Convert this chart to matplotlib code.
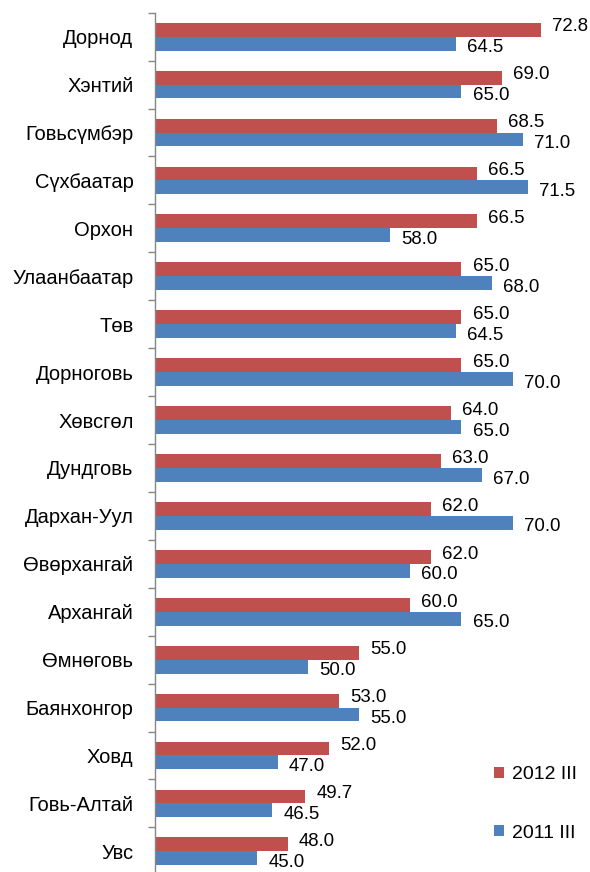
import matplotlib
matplotlib.use("Agg")
import matplotlib.pyplot as plt
import numpy as np

plt.rcParams['font.family'] = ['Liberation Sans', 'DejaVu Sans']

aimags = ["Дорнод", "Хэнтий", "Говьсүмбэр", "Сүхбаатар", "Орхон", "Улаанбаатар",
          "Төв", "Дорноговь", "Хөвсгөл", "Дундговь", "Дархан-Уул", "Өвөрхангай",
          "Архангай", "Өмнөговь", "Баянхонгор", "Ховд", "Говь-Алтай", "Увс"]
vals_2012 = [72.8, 69.0, 68.5, 66.5, 66.5, 65.0, 65.0, 65.0, 64.0, 63.0,
             62.0, 62.0, 60.0, 55.0, 53.0, 52.0, 49.7, 48.0]
vals_2011 = [64.5, 65.0, 71.0, 71.5, 58.0, 68.0, 64.5, 70.0, 65.0, 67.0,
             70.0, 60.0, 65.0, 50.0, 55.0, 47.0, 46.5, 45.0]
series_labels = ["2012 III", "2011 III"]

RED = "#C0504D"
BLUE = "#4F81BD"

fig = plt.figure(figsize=(5.9, 8.72), dpi=100)
W, H = 590, 872
ax = fig.add_axes([155 / W, (H - 875.3) / H, (563.6 - 155) / W, (875.3 - 12.7) / H])

y = np.arange(len(aimags))
h = 0.29
xmin = 35
b1 = ax.barh(y - h / 2, np.array(vals_2012) - xmin, height=h, left=xmin,
             color=RED, label=series_labels[0])
b2 = ax.barh(y + h / 2, np.array(vals_2011) - xmin, height=h, left=xmin,
             color=BLUE, label=series_labels[1])

# data labels: red slightly above, blue slightly below
for i in range(len(aimags)):
    ax.annotate(f"{vals_2012[i]:.1f}", (vals_2012[i], y[i] - h / 2),
                xytext=(8, 2), textcoords="offset points",
                ha="left", va="center", fontsize=13.4, color="black")
    ax.annotate(f"{vals_2011[i]:.1f}", (vals_2011[i], y[i] + h / 2),
                xytext=(8, -3), textcoords="offset points",
                ha="left", va="center", fontsize=13.4, color="black")

ax.set_xlim(xmin, 75)
ax.set_ylim(len(aimags) - 0.5, -0.5)
ax.set_yticks(y)
ax.set_yticklabels(aimags, fontsize=14.5)
ax.set_yticks(np.arange(len(aimags) + 1) - 0.5, minor=True)
ax.tick_params(axis="y", which="major", length=0, pad=15.5)
ax.tick_params(axis="y", which="minor", length=5, width=1, color="#868686")
ax.set_xticks([])
for s in ["top", "right", "bottom"]:
    ax.spines[s].set_visible(False)
ax.spines["left"].set_color("#868686")
ax.spines["left"].set_linewidth(1)

leg = ax.legend(handles=[b1, b2], loc="upper left",
                bbox_to_anchor=(494 / W, 1 - 766 / H), bbox_transform=fig.transFigure,
                frameon=False, fontsize=14, handlelength=0.5, handleheight=0.5,
                handletextpad=0.4, labelspacing=2.15, borderpad=0, borderaxespad=0)

fig.savefig("out.png", dpi=100)
